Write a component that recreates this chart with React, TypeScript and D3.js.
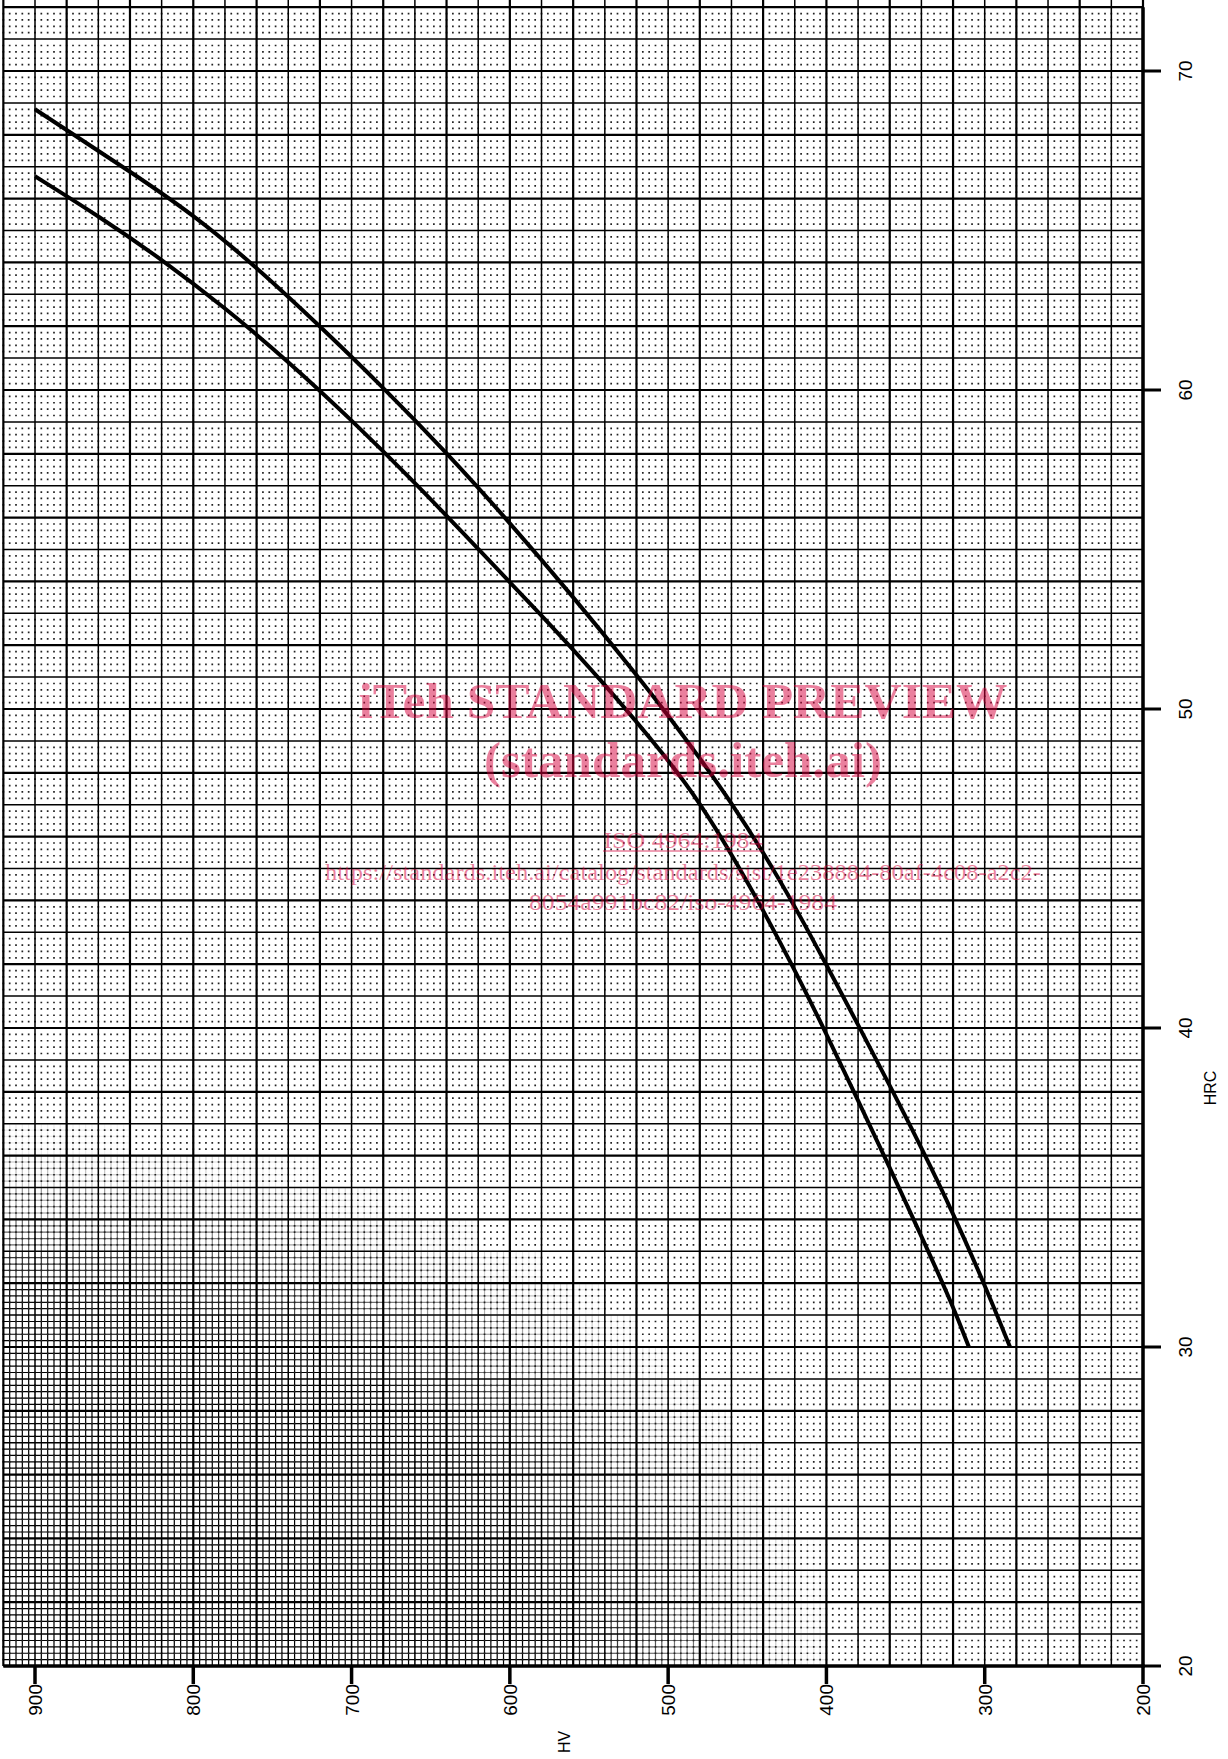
import React from 'react';
import * as d3 from 'd3';

// curve readings, HV on the bottom axis, HRC on the right axis
const upperHV = [900, 880, 840, 800, 760, 720, 680, 640, 600, 560, 520, 500, 480, 460, 440, 420, 400, 380, 360, 340, 320, 300, 284];
const upperHRC = [68.8, 68.15, 66.85, 65.5, 63.85, 62.0, 60.08, 58.04, 55.84, 53.52, 51.08, 49.8, 48.46, 47.06, 45.52, 43.82, 41.98, 40.1, 38.2, 36.25, 34.2, 31.95, 30];

const lowerHV = [900, 860, 820, 780, 740, 700, 660, 620, 580, 540, 500, 480, 460, 440, 420, 400, 380, 360, 340, 320, 310];
const lowerHRC = [66.7, 65.46, 64.1, 62.58, 60.9, 59.06, 57.1, 55.02, 52.94, 50.78, 48.42, 47.06, 45.46, 43.7, 41.82, 39.82, 37.72, 35.62, 33.48, 31.28, 30];

const hvTicks = [900, 800, 700, 600, 500, 400, 300, 200];
const hrcTicks = [20, 30, 40, 50, 60, 70];

const watermark = [
    'iTeh STANDARD PREVIEW',
    '(standards.iteh.ai)',
    'ISO 4964:1984',
    'https://standards.iteh.ai/catalog/standards/sist/1e238884-80af-4c08-a2c2-',
    '8054a991bc82/iso-4964-1984'
];

const W = 1228, H = 1759;

const App = () => {
    const x = d3.scaleLinear().domain([900, 200]).range([35, 1143]);
    const y = d3.scaleLinear().domain([70, 20]).range([71, 1666]);

    const hvMin = 920, hvMax = 200, hrcMin = 20, hrcMax = 72;
    const left = x(hvMin), right = x(hvMax), top = y(hrcMax), bottom = y(hrcMin);

    const majorV = d3.range(hvMax, hvMin + 0.1, 20);
    const majorH = d3.range(hrcMin, hrcMax + 0.01, 1);
    const minorH = d3.range(hrcMin * 5, hrcMax * 5 + 1).filter(i => i % 5 !== 0).map(i => i / 5);

    const step = Math.abs(x(916) - x(920));
    const dot = 1.7;

    // the photocopy fills in the minor grid towards the lower left corner
    const cells: { d: string; o: number; k: string }[] = [];
    for (let hv = hvMax; hv < hvMin; hv += 20) {
        for (let hrc = hrcMin; hrc < hrcMax; hrc += 1) {
            const px = x(hv + 10), py = y(hrc + 0.5);
            const dist = Math.sqrt((px / 840) ** 2 + ((bottom - py) / 540) ** 2);
            const o = Math.max(0, Math.min(1, (1 - dist) * 3));
            if (o < 0.03) continue;
            const p = d3.path();
            for (let k = 1; k < 5; k++) {
                const vx = x(hv + 4 * k);
                p.moveTo(vx, y(hrc + 1)); p.lineTo(vx, y(hrc));
                const hy = y(hrc + 0.2 * k);
                p.moveTo(x(hv + 20), hy); p.lineTo(x(hv), hy);
            }
            cells.push({ d: p.toString(), o, k: hv + '_' + hrc });
        }
    }

    const line = d3.line<[number, number]>()
        .x(d => x(d[0]))
        .y(d => y(d[1]))
        .curve(d3.curveBasis);

    const upper = line(upperHV.map((v, i) => [v, upperHRC[i]]));
    const lower = line(lowerHV.map((v, i) => [v, lowerHRC[i]]));

    const cx = 683;
    const pink = '#d5003c';

    return (
        <svg width={W} height={H} style={{ position: 'absolute', left: 0, top: 0, background: '#fff' }}>
            {/* dense minor grid */}
            <g stroke="#000" strokeWidth={1.2} fill="none">
                {cells.map(c => <path key={c.k} d={c.d} strokeOpacity={c.o} />)}
            </g>

            {/* dotted minor lattice */}
            <g stroke="#222" strokeWidth={dot} strokeDasharray={`${dot} ${step - dot}`}>
                {minorH.map(v => (
                    <line key={'m' + v} x1={left - dot / 2} x2={right} y1={y(v)} y2={y(v)} />
                ))}
            </g>

            {/* major grid */}
            <g stroke="#000">
                {majorV.map(v => (
                    <line key={'v' + v} x1={x(v)} x2={x(v)} y1={0} y2={bottom}
                        strokeWidth={v % 40 === 0 ? 2.2 : 1.5} />
                ))}
                {majorH.map(v => (
                    <line key={'h' + v} x1={left} x2={right} y1={y(v)} y2={y(v)}
                        strokeWidth={v % 2 === 0 ? 2.2 : 1.5} />
                ))}
            </g>

            {/* axes */}
            <line x1={left} x2={right + 1.5} y1={bottom} y2={bottom} stroke="#000" strokeWidth={3.5} />
            <line x1={right} x2={right} y1={top} y2={bottom + 1.5} stroke="#000" strokeWidth={3.5} />

            {hvTicks.map(v => (
                <g key={'t' + v}>
                    <line x1={x(v)} x2={x(v)} y1={bottom} y2={bottom + 18} stroke="#000" strokeWidth={3.5} />
                    <text transform={`translate(${x(v) + 7},${bottom + 18}) rotate(-90)`} textAnchor="end"
                        fontFamily="Liberation Sans, Arial, sans-serif" fontSize={19}>{v}</text>
                </g>
            ))}
            {hrcTicks.map(v => (
                <g key={'r' + v}>
                    <line x1={right} x2={right + 18} y1={y(v)} y2={y(v)} stroke="#000" strokeWidth={3} />
                    <text transform={`translate(${right + 49},${y(v)}) rotate(-90)`} textAnchor="middle"
                        fontFamily="Liberation Sans, Arial, sans-serif" fontSize={19}>{v}</text>
                </g>
            ))}
            <text transform={`translate(570,1742) rotate(-90)`} textAnchor="middle"
                fontFamily="Liberation Sans, Arial, sans-serif" fontSize={16}>HV</text>
            <text transform={`translate(1216,1088) rotate(-90)`} textAnchor="middle"
                fontFamily="Liberation Sans, Arial, sans-serif" fontSize={16}>HRC</text>

            {/* curves */}
            <path d={upper || ''} fill="none" stroke="#000" strokeWidth={4} />
            <path d={lower || ''} fill="none" stroke="#000" strokeWidth={4} />

            {/* watermark */}
            <g fill={pink} fillOpacity={0.5} fontFamily="Liberation Serif, Times New Roman, serif" textAnchor="middle">
                <text x={cx} y={718} fontSize={50} fontWeight="bold" textLength={649} lengthAdjust="spacingAndGlyphs">{watermark[0]}</text>
                <text x={cx} y={777} fontSize={50} fontWeight="bold" textLength={398} lengthAdjust="spacingAndGlyphs">{watermark[1]}</text>
                <text x={cx} y={848} fontSize={24} textLength={159} lengthAdjust="spacingAndGlyphs">{watermark[2]}</text>
                <text x={cx} y={880} fontSize={24} textLength={716} lengthAdjust="spacingAndGlyphs">{watermark[3]}</text>
                <text x={cx} y={910} fontSize={24} textLength={308} lengthAdjust="spacingAndGlyphs">{watermark[4]}</text>
            </g>
            <line x1={cx - 80} x2={cx + 80} y1={851} y2={851} stroke={pink} strokeOpacity={0.5} strokeWidth={1.5} />
        </svg>
    );
};

export default App;
